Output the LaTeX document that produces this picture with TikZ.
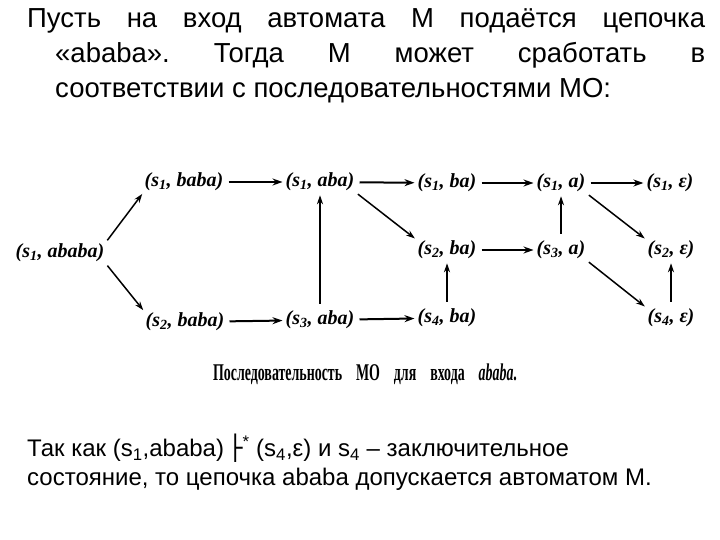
\documentclass[tikz,border=0pt]{standalone}
\usepackage{fontspec}
\setmainfont{Liberation Sans}
\newfontfamily\capfont{Liberation Serif}
\newfontfamily\symfont{DejaVu Sans}
\usetikzlibrary{arrows.meta, positioning}
\tikzset{
  mo/.style={inner sep=1pt, font=\capfont\bfseries\itshape\fontsize{20}{22}\selectfont},
  harr/.style={-{Stealth[length=10pt, width=7pt]}, line width=2pt, shorten <=4pt, shorten >=2pt},
  darr/.style={-{Stealth[length=9pt, width=6pt]}, line width=1.5pt, shorten <=3pt, shorten >=2pt},
  varr/.style={-{Stealth[length=9pt, width=6pt]}, line width=1.2pt, shorten <=6pt, shorten >=3pt}
}
\newcommand{\sub}[1]{\textsubscript{#1}}
\begin{document}
\frenchspacing
\begin{tikzpicture}[x=1pt, y=-1pt]
\useasboundingbox (0, 0) rectangle (720, 540);
\node[anchor=north west, inner sep=0pt, text width=678pt, align=justify,
      font=\fontsize{27.5}{35}\selectfont] (top) at (27, 8)
  {\hangindent=28pt \hangafter=1 Пусть на вход автомата М подаётся цепочка\linebreak
   «ababa». Тогда М может сработать в\linebreak
   соответствии с последовательностями МО:\par};
\node[mo] (A) at (60, 253) {(s\sub{1}, ababa)};
\node[mo] (B) at (184, 182) {(s\sub{1}, baba)};
\node[mo] (C) at (185, 322) {(s\sub{2}, baba)};
\node[mo] (D) at (320, 182) {(s\sub{1}, aba)};
\node[mo] (E) at (320, 320) {(s\sub{3}, aba)};
\node[mo] (F) at (447, 183) {(s\sub{1}, ba)};
\node[mo] (G) at (447, 250) {(s\sub{2}, ba)};
\node[mo] (H) at (447, 318) {(s\sub{4}, ba)};
\node[mo] (I) at (561, 183) {(s\sub{1}, a)};
\node[mo] (J) at (561, 250) {(s\sub{3}, a)};
\node[mo] (K) at (670, 183) {(s\sub{1}, ε)};
\node[mo] (L) at (671, 250) {(s\sub{2}, ε)};
\node[mo] (M) at (671, 318) {(s\sub{4}, ε)};
\draw[darr] (A.north east) -- (B.south west);
\draw[darr] (A.south east) -- (C.north west);
\draw[harr] (B) -- (D);
\draw[harr] (C) -- (E);
\draw[varr] (E) -- (D);
\draw[harr] (D) -- (F);
\draw[darr] (D.south east) -- (G.north west);
\draw[harr] (E) -- (H);
\draw[varr] (H) -- (G);
\draw[harr] (F) -- (I);
\draw[harr] (G) -- (J);
\draw[varr] (J) -- (I);
\draw[harr] (I) -- (K);
\draw[darr] (I.south east) -- (L.north west);
\draw[darr] (J.south east) -- (M.north west);
\draw[varr] (M) -- (L);
\node[inner sep=0pt, font=\capfont\bfseries\fontsize{24}{28}\selectfont] (cap) at (365, 374)
  {\scalebox{0.58}[1]{Последовательность\quad МО\quad для\quad входа\quad \textit{ababa}.}};
\node[anchor=north west, inner sep=0pt, align=left,
      font=\fontsize{24}{29}\selectfont] (bot) at (27, 434)
  {Так как (s\sub{1},ababa)\,{\symfont ├}\textsuperscript{*} (s\sub{4},ε) и s\sub{4} – заключительное\\
   состояние, то цепочка ababa допускается автоматом М.};
\end{tikzpicture}
\end{document}
